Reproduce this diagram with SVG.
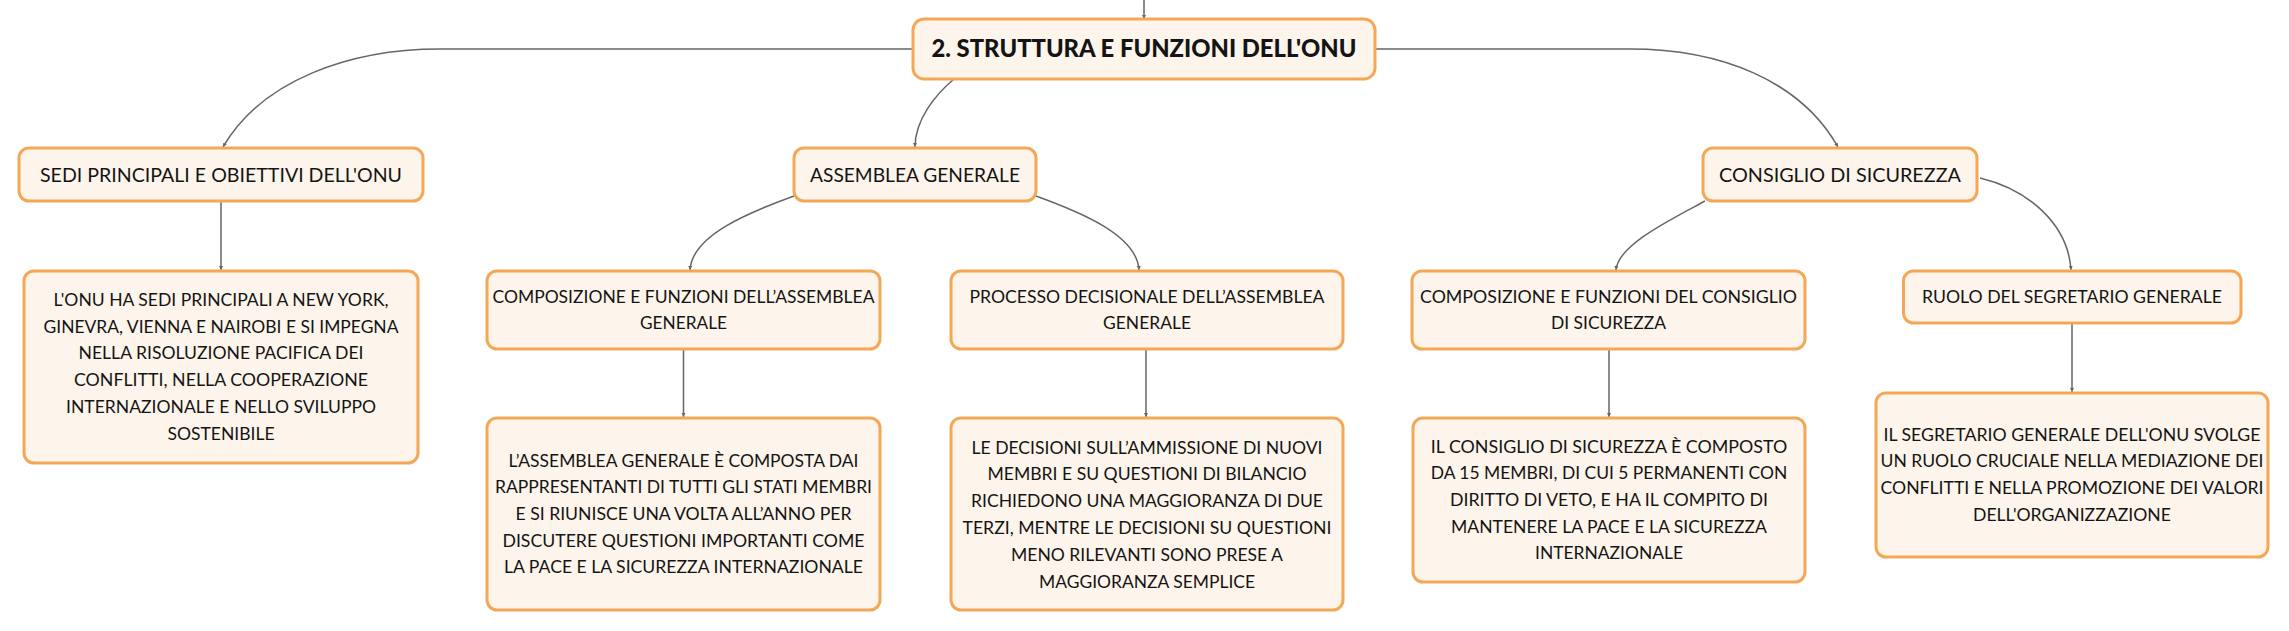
<svg xmlns="http://www.w3.org/2000/svg" width="2289" height="631" viewBox="0 0 2289 631">
<defs>
<style>
.box{fill:#fdf4eb;stroke:#f4a857;stroke-width:3}
.t{font-family:Lato,"Liberation Sans",sans-serif;fill:#141414;text-anchor:middle}
.l1{font-size:24px;font-weight:900}
.l2{font-size:20px}
.l3{font-size:18px}
.lf{font-size:18px}
.c{fill:none;stroke:#666;stroke-width:1.5;marker-end:url(#ah)}
</style>
<marker id="ah" markerUnits="userSpaceOnUse" markerWidth="5" markerHeight="5" refX="4" refY="2" orient="auto">
<path d="M0,0 L4,2 L0,4 z" fill="#666"/>
</marker>
</defs>
<rect width="2289" height="631" fill="#ffffff"/>
<g id="connectors">
<path class="c" d="M1144,0 L1144,19"/>
<path class="c" d="M913,49 L440,49 C350,49 262,80 223,147"/>
<path class="c" d="M954,79 C935,95 915,120 915,147"/>
<path class="c" d="M1375,49 L1630,49 C1720,49 1800,80 1838,147"/>
<path class="c" d="M221,201 L221,270"/>
<path class="c" d="M794,196 C750,212 692,235 690,270"/>
<path class="c" d="M1036,196 C1080,212 1137,235 1139,270"/>
<path class="c" d="M683.5,349 L683.5,417"/>
<path class="c" d="M1146,349 L1146,417"/>
<path class="c" d="M1705,201 C1670,220 1618,245 1616,270"/>
<path class="c" d="M1980,178 C2030,190 2068,225 2071,270"/>
<path class="c" d="M1609,349 L1609,417"/>
<path class="c" d="M2072,323 L2072,392"/>
</g>
<g id="n-root">
<rect class="box" x="913" y="19" width="462" height="60" rx="11"/>
<text class="t l1" x="1144" y="57.3" textLength="425" lengthAdjust="spacingAndGlyphs">2. STRUTTURA E FUNZIONI DELL'ONU</text>
</g>
<g id="n-sedi">
<rect class="box" x="19" y="148" width="404" height="53" rx="10"/>
<text class="t l2" x="221" y="182.3" textLength="362" lengthAdjust="spacingAndGlyphs">SEDI PRINCIPALI E OBIETTIVI DELL'ONU</text>
</g>
<g id="n-assemblea">
<rect class="box" x="794" y="148" width="242" height="53" rx="10"/>
<text class="t l2" x="915" y="182.3" textLength="210" lengthAdjust="spacingAndGlyphs">ASSEMBLEA GENERALE</text>
</g>
<g id="n-consiglio">
<rect class="box" x="1703" y="148" width="274" height="53" rx="10"/>
<text class="t l2" x="1840" y="182.3" textLength="242" lengthAdjust="spacingAndGlyphs">CONSIGLIO DI SICUREZZA</text>
</g>
<g id="n-onu-sedi">
<rect class="box" x="24" y="271" width="394" height="192" rx="10"/>
<text class="t lf" x="221" y="305.7" textLength="335" lengthAdjust="spacingAndGlyphs">L'ONU HA SEDI PRINCIPALI A NEW YORK,</text>
<text class="t lf" x="221" y="332.5" textLength="355" lengthAdjust="spacingAndGlyphs">GINEVRA, VIENNA E NAIROBI E SI IMPEGNA</text>
<text class="t lf" x="221" y="359.3" textLength="285" lengthAdjust="spacingAndGlyphs">NELLA RISOLUZIONE PACIFICA DEI</text>
<text class="t lf" x="221" y="386.1" textLength="294" lengthAdjust="spacingAndGlyphs">CONFLITTI, NELLA COOPERAZIONE</text>
<text class="t lf" x="221" y="412.9" textLength="310" lengthAdjust="spacingAndGlyphs">INTERNAZIONALE E NELLO SVILUPPO</text>
<text class="t lf" x="221" y="439.7" textLength="107" lengthAdjust="spacingAndGlyphs">SOSTENIBILE</text>
</g>
<g id="n-comp-ass">
<rect class="box" x="487" y="271" width="393" height="78" rx="10"/>
<text class="t l3" x="683.5" y="302.5" textLength="382" lengthAdjust="spacingAndGlyphs">COMPOSIZIONE E FUNZIONI DELL’ASSEMBLEA</text>
<text class="t l3" x="683.5" y="329.3" textLength="87" lengthAdjust="spacingAndGlyphs">GENERALE</text>
</g>
<g id="n-processo">
<rect class="box" x="951" y="271" width="392" height="78" rx="10"/>
<text class="t l3" x="1147" y="302.5" textLength="355" lengthAdjust="spacingAndGlyphs">PROCESSO DECISIONALE DELL’ASSEMBLEA</text>
<text class="t l3" x="1147" y="329.3" textLength="88" lengthAdjust="spacingAndGlyphs">GENERALE</text>
</g>
<g id="n-ass-comp-text">
<rect class="box" x="487" y="418" width="393" height="192" rx="10"/>
<text class="t lf" x="683.5" y="466.5" textLength="350" lengthAdjust="spacingAndGlyphs">L’ASSEMBLEA GENERALE È COMPOSTA DAI</text>
<text class="t lf" x="683.5" y="493.2" textLength="377" lengthAdjust="spacingAndGlyphs">RAPPRESENTANTI DI TUTTI GLI STATI MEMBRI</text>
<text class="t lf" x="683.5" y="519.9" textLength="336" lengthAdjust="spacingAndGlyphs">E SI RIUNISCE UNA VOLTA ALL’ANNO PER</text>
<text class="t lf" x="683.5" y="546.6" textLength="362" lengthAdjust="spacingAndGlyphs">DISCUTERE QUESTIONI IMPORTANTI COME</text>
<text class="t lf" x="683.5" y="573.3" textLength="359" lengthAdjust="spacingAndGlyphs">LA PACE E LA SICUREZZA INTERNAZIONALE</text>
</g>
<g id="n-decisioni">
<rect class="box" x="951" y="418" width="392" height="192" rx="10"/>
<text class="t lf" x="1147" y="453.5" textLength="351" lengthAdjust="spacingAndGlyphs">LE DECISIONI SULL’AMMISSIONE DI NUOVI</text>
<text class="t lf" x="1147" y="480.3" textLength="319" lengthAdjust="spacingAndGlyphs">MEMBRI E SU QUESTIONI DI BILANCIO</text>
<text class="t lf" x="1147" y="507.1" textLength="352" lengthAdjust="spacingAndGlyphs">RICHIEDONO UNA MAGGIORANZA DI DUE</text>
<text class="t lf" x="1147" y="533.9" textLength="369" lengthAdjust="spacingAndGlyphs">TERZI, MENTRE LE DECISIONI SU QUESTIONI</text>
<text class="t lf" x="1147" y="560.7" textLength="272" lengthAdjust="spacingAndGlyphs">MENO RILEVANTI SONO PRESE A</text>
<text class="t lf" x="1147" y="587.5" textLength="216" lengthAdjust="spacingAndGlyphs">MAGGIORANZA SEMPLICE</text>
</g>
<g id="n-comp-cons">
<rect class="box" x="1412" y="271" width="393" height="78" rx="10"/>
<text class="t l3" x="1608.5" y="302.5" textLength="377" lengthAdjust="spacingAndGlyphs">COMPOSIZIONE E FUNZIONI DEL CONSIGLIO</text>
<text class="t l3" x="1608.5" y="329.3" textLength="115" lengthAdjust="spacingAndGlyphs">DI SICUREZZA</text>
</g>
<g id="n-ruolo">
<rect class="box" x="1903.5" y="271" width="337.5" height="52" rx="10"/>
<text class="t l3" x="2072" y="303.3" textLength="300" lengthAdjust="spacingAndGlyphs">RUOLO DEL SEGRETARIO GENERALE</text>
</g>
<g id="n-cons-text">
<rect class="box" x="1413" y="418" width="392" height="164" rx="10"/>
<text class="t lf" x="1609" y="452.5" textLength="356.5" lengthAdjust="spacingAndGlyphs">IL CONSIGLIO DI SICUREZZA È COMPOSTO</text>
<text class="t lf" x="1609" y="479.2" textLength="356.5" lengthAdjust="spacingAndGlyphs">DA 15 MEMBRI, DI CUI 5 PERMANENTI CON</text>
<text class="t lf" x="1609" y="505.9" textLength="318" lengthAdjust="spacingAndGlyphs">DIRITTO DI VETO, E HA IL COMPITO DI</text>
<text class="t lf" x="1609" y="532.6" textLength="316" lengthAdjust="spacingAndGlyphs">MANTENERE LA PACE E LA SICUREZZA</text>
<text class="t lf" x="1609" y="559.3" textLength="148" lengthAdjust="spacingAndGlyphs">INTERNAZIONALE</text>
</g>
<g id="n-segretario-text">
<rect class="box" x="1876" y="393" width="392" height="164" rx="10"/>
<text class="t lf" x="2072" y="440.5" textLength="377" lengthAdjust="spacingAndGlyphs">IL SEGRETARIO GENERALE DELL'ONU SVOLGE</text>
<text class="t lf" x="2072" y="467.2" textLength="383" lengthAdjust="spacingAndGlyphs">UN RUOLO CRUCIALE NELLA MEDIAZIONE DEI</text>
<text class="t lf" x="2072" y="493.9" textLength="383" lengthAdjust="spacingAndGlyphs">CONFLITTI E NELLA PROMOZIONE DEI VALORI</text>
<text class="t lf" x="2072" y="520.6" textLength="198" lengthAdjust="spacingAndGlyphs">DELL'ORGANIZZAZIONE</text>
</g>
</svg>
